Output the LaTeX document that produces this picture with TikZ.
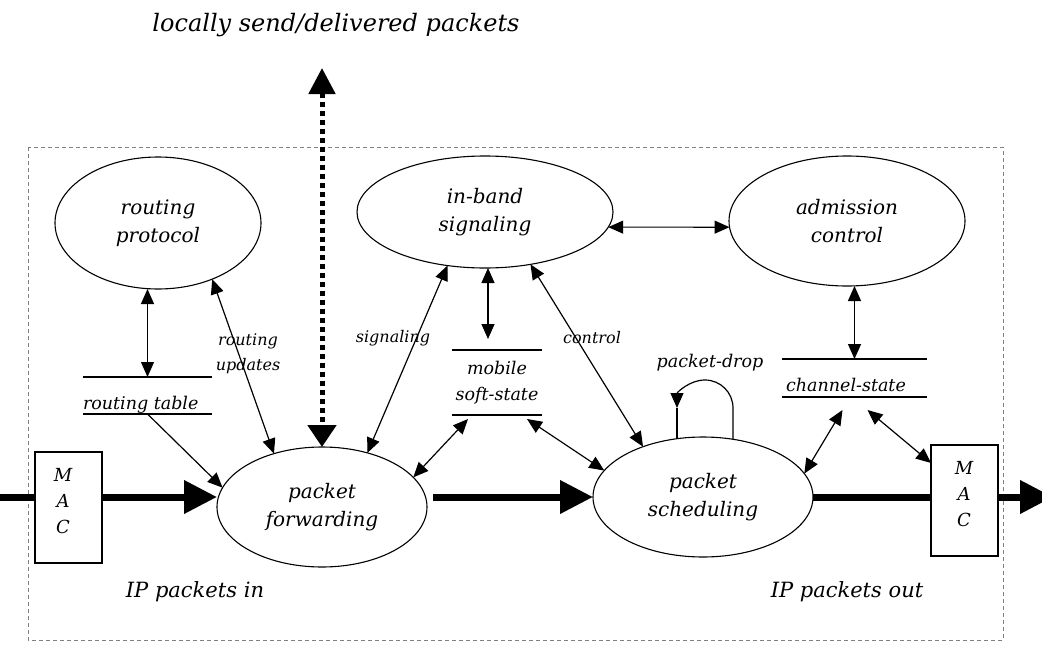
\documentclass[tikz,border=0pt]{standalone}
\usepackage{fontspec}
\setmainfont{DejaVu Serif}
\usetikzlibrary{arrows.meta,shapes.geometric,calc}

\begin{document}
\begin{tikzpicture}[x=1pt,y=-1pt,
  every node/.style={inner sep=0pt, outer sep=0pt},
  proc/.style={draw, ellipse, line width=1.1pt, align=center,
    font=\fontsize{20}{28}\selectfont\itshape},
  macbox/.style={draw, line width=1.8pt, minimum width=67pt, minimum height=111pt},
  mactxt/.style={align=center, font=\fontsize{18}{26}\selectfont\itshape},
  lbl/.style={font=\fontsize{16}{25}\selectfont\itshape, align=center},
  stxt/.style={font=\fontsize{17.5}{26}\selectfont\itshape, align=center},
  big/.style={font=\fontsize{21}{25}\selectfont\itshape},
  storeline/.style={line width=1.5pt},
  link/.style={line width=1.2pt},
  both/.style={link, {Triangle[length=15pt,width=13pt]}-{Triangle[length=15pt,width=13pt]}},
  onearrow/.style={link, -{Triangle[length=15pt,width=13pt]}},
  flow/.style={line width=7pt},
  flowhead/.style={flow, -{Triangle[length=33pt,width=32pt]}},
  dots/.style={line width=5pt, dash pattern=on 5pt off 4pt,
    {Triangle[length=26pt,width=26pt]}-{Triangle[length=22pt,width=28pt]}},
  dashframe/.style={draw=gray, line width=0.7pt, dash pattern=on 4pt off 3pt},
]
\clip (0,0) rectangle (1042,645);
\fill[white] (0,0) rectangle (1042,645);

% router boundary
\draw[dashframe] (28,147) rectangle (1003,640);

% title above the router
\node[big, font=\fontsize{24}{28}\selectfont\itshape] (title) at (336,25) {locally send/delivered packets};

% processes
\node[proc, minimum width=206pt, minimum height=132pt] (rp) at (158,223) {routing\\protocol};
\node[proc, minimum width=256pt, minimum height=112pt] (ib) at (485,212) {in-band\\signaling};
\node[proc, minimum width=236pt, minimum height=130pt] (ac) at (847,221) {admission\\control};
\node[proc, minimum width=210pt, minimum height=120pt] (pf) at (322,507) {packet\\forwarding};
\node[proc, minimum width=220pt, minimum height=120pt] (ps) at (703,497) {packet\\scheduling};

% data stores
\node[minimum width=129pt, minimum height=37pt] (rt) at (147.5,395.5) {};
\node[stxt, minimum width=90pt, minimum height=65pt] (mss) at (497,382.5) {mobile\\soft-state};
\node[minimum width=145pt, minimum height=38pt] (cs) at (854.5,378) {};
\node[stxt, anchor=base west] (rtt) at (83,409) {routing table};
\node[stxt] (cst) at (846,385) {channel-state};
\foreach \s in {rt,mss,cs}
  \draw[storeline] (\s.north west) -- (\s.north east) (\s.south west) -- (\s.south east);

% link layer
\node[macbox] (macl) at (68.5,507.5) {};
\node[macbox] (macr) at (964.5,500.5) {};
\node[mactxt] (macltxt) at (63,501) {M\\A\\C};
\node[mactxt] (macrtxt) at (964,494) {M\\A\\C};

% labels
\node[lbl] (rul) at (248,354) {routing\\updates};
\node[lbl] (sigl) at (393,338) {signaling};
\node[lbl] (ctl) at (592,338) {control};
\node[stxt] (pdl) at (710,363) {packet-drop};
\node[big] (ipin) at (195,592) {IP packets in};
\node[big] (ipout) at (847,592) {IP packets out};

% control-plane connectors
\draw[both] (rp.south -| rt.north) -- (rt.north);
\draw[both] (rp.-46) -- (pf.132);
\draw[onearrow] (rt.south) -- (pf.169);
\draw[both] (ib.-125) -- (pf.50);
\draw[both] (ib.-49) -- (ps.140);
\coordinate (ibm) at ($(ib.south)+(3,0)$);
\draw[both, shorten >=11pt] (ibm) -- (ibm |- mss.north);
\draw[both] ($(mss.south west)+(16,4)$) -- (pf.18);
\draw[both] ($(mss.south east)+(-15,4)$) -- (ps.165);
\draw[both] (ib.-7) -- (ac.-177);
\draw[both] (ac.south -| cs.north) -- (cs.north);
\draw[both] ($(cs.south)+(-12,13)$) -- (ps.13);
\draw[both] ($(cs.south)+(13,13)$) -- ($(macr.north west)+(0,18)$);

% packet drop loop
\draw[onearrow] ($(ps.north)+(30,2)$) -- ($(ps.north)+(30,-29)$)
  arc[start angle=0, end angle=-180, radius=28];
\draw[link] ($(ps.north)+(-26,-29)$) -- ($(ps.north)+(-26,2)$);

% locally delivered packets
\coordinate (loc) at (322,68);
\draw[dots] (loc) -- (pf.north);

% data path
\coordinate (inL) at (0,497);
\coordinate (outR) at (1053,497);
\draw[flow] (inL) -- (inL -| macl.west);
\draw[flowhead] (inL -| macl.east) -- (inL -| pf.west);
\draw[flowhead, shorten <=6pt] (inL -| pf.east) -- (inL -| ps.west);
\draw[flow] (inL -| ps.east) -- (inL -| macr.west);
\draw[flowhead] (inL -| macr.east) -- (outR);
\end{tikzpicture}
\end{document}
